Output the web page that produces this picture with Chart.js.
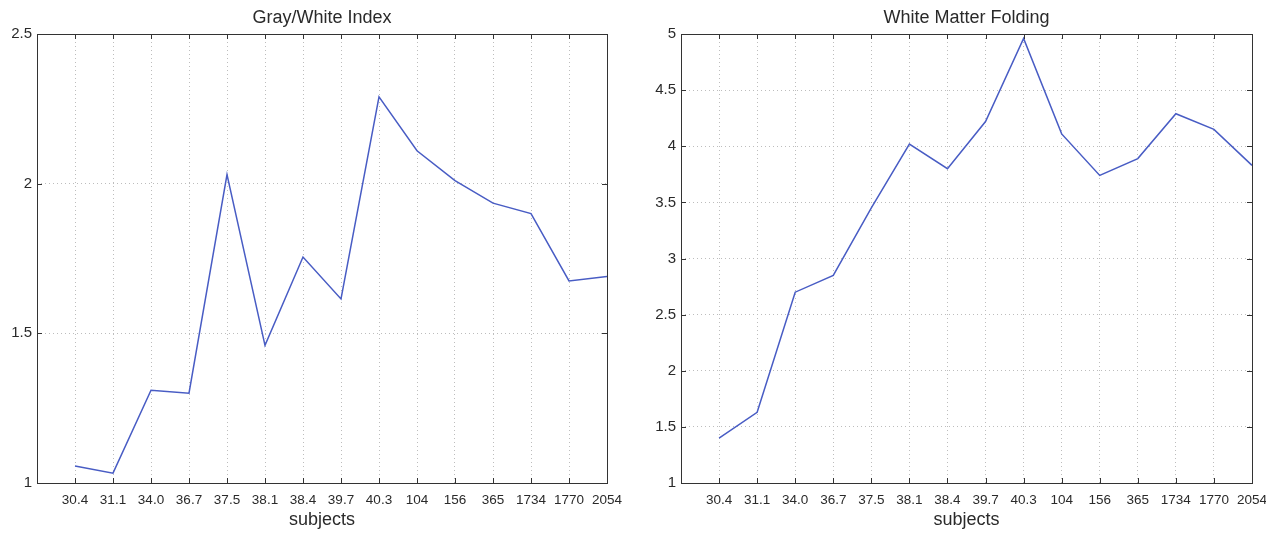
<!DOCTYPE html>
<html>
<head>
<meta charset="utf-8">
<script src="https://cdn.jsdelivr.net/npm/chart.js@4"></script>
<style>
  body { margin: 0; background: #fff; overflow: hidden; }
  .box { position: absolute; top: 0; height: 533px; }
  #leftBox { left: 0; width: 630px; }
  #rightBox { left: 630px; width: 636px; }
</style>
</head>
<body>
<div class="box" id="leftBox"><canvas id="grayWhiteChart"></canvas></div>
<div class="box" id="rightBox"><canvas id="foldingChart"></canvas></div>
<script>
const subjects = ['30.4', '31.1', '34.0', '36.7', '37.5', '38.1', '38.4', '39.7', '40.3', '104', '156', '365', '1734', '1770', '2054'];
const grayWhiteIndex = [1.057, 1.033, 1.31, 1.30, 2.03, 1.46, 1.755, 1.615, 2.29, 2.11, 2.01, 1.935, 1.90, 1.675, 1.69];
const whiteMatterFolding = [1.40, 1.63, 2.70, 2.85, 3.45, 4.02, 3.80, 4.22, 4.96, 4.11, 3.74, 3.89, 4.29, 4.15, 3.83];

const FONT = 'Liberation Sans, Arial, sans-serif';
const TEXT = '#2a2a2a';

// matlab style frame: box + inward tick marks + title over the plot area
const framePlugin = {
  id: 'frame',
  afterDraw(chart, args, opts) {
    const { ctx, chartArea: a, scales } = chart;
    ctx.save();
    ctx.strokeStyle = '#333';
    ctx.lineWidth = 1;
    ctx.strokeRect(Math.round(a.left) + 0.5, Math.round(a.top) + 0.5, Math.round(a.right - a.left), Math.round(a.bottom - a.top));
    const len = 5;
    ctx.beginPath();
    scales.x.ticks.forEach(t => {
      if (t.value <= 0 || t.value >= 15) return;
      const x = Math.round(scales.x.getPixelForValue(t.value)) + 0.5;
      ctx.moveTo(x, a.bottom); ctx.lineTo(x, a.bottom - len);
      ctx.moveTo(x, a.top); ctx.lineTo(x, a.top + len);
    });
    scales.y.ticks.forEach(t => {
      const y = Math.round(scales.y.getPixelForValue(t.value)) + 0.5;
      ctx.moveTo(a.left, y); ctx.lineTo(a.left + len, y);
      ctx.moveTo(a.right, y); ctx.lineTo(a.right - len, y);
    });
    ctx.stroke();
    ctx.fillStyle = TEXT;
    ctx.font = '18px ' + FONT;
    ctx.textAlign = 'center';
    ctx.textBaseline = 'middle';
    ctx.fillText(opts.text, (a.left + a.right) / 2, 18);
    ctx.restore();
  }
};

function makeChart(id, title, values, yMax, yWidth, rightPad) {
  const ctx = document.getElementById(id).getContext('2d');
  return new Chart(ctx, {
    type: 'line',
    data: {
      datasets: [{
        data: values.map((v, i) => ({ x: i + 1, y: v })),
        borderColor: 'rgb(72, 92, 196)',
        borderWidth: 1.5,
        pointRadius: 0,
        fill: false,
        tension: 0
      }]
    },
    options: {
      responsive: true,
      maintainAspectRatio: false,
      animation: false,
      layout: { padding: { top: 34, right: rightPad, left: 0, bottom: 0 } },
      plugins: {
        legend: { display: false },
        tooltip: { enabled: false },
        frame: { text: title }
      },
      scales: {
        x: {
          type: 'linear',
          min: 0,
          max: 15,
          afterFit: s => { s.height = 50; s.paddingRight = 0; s.paddingLeft = 0; },
          afterBuildTicks: s => { s.ticks = Array.from({ length: 16 }, (_, i) => ({ value: i })); },
          grid: { color: '#bdbdbd', lineWidth: 1, drawTicks: false },
          border: { display: false, dash: [1, 3] },
          ticks: {
            autoSkip: false,
            maxRotation: 0,
            padding: 9,
            color: TEXT,
            font: { family: FONT, size: 13.5 },
            callback: v => (v >= 1 ? subjects[v - 1] : '')
          },
          title: { display: true, text: 'subjects', color: TEXT, font: { family: FONT, size: 18 }, padding: { top: 0, bottom: 2 } }
        },
        y: {
          min: 1,
          max: yMax,
          afterFit: s => { s.width = yWidth; },
          grid: { color: '#bdbdbd', lineWidth: 1, drawTicks: false },
          border: { display: false, dash: [1, 3] },
          ticks: {
            stepSize: 0.5,
            padding: 5,
            color: TEXT,
            font: { family: FONT, size: 15 },
            callback: v => String(v)
          }
        }
      }
    },
    plugins: [framePlugin]
  });
}

makeChart('grayWhiteChart', 'Gray/White Index', grayWhiteIndex, 2.5, 37, 23);
makeChart('foldingChart', 'White Matter Folding', whiteMatterFolding, 5, 51, 14);
</script>
</body>
</html>
